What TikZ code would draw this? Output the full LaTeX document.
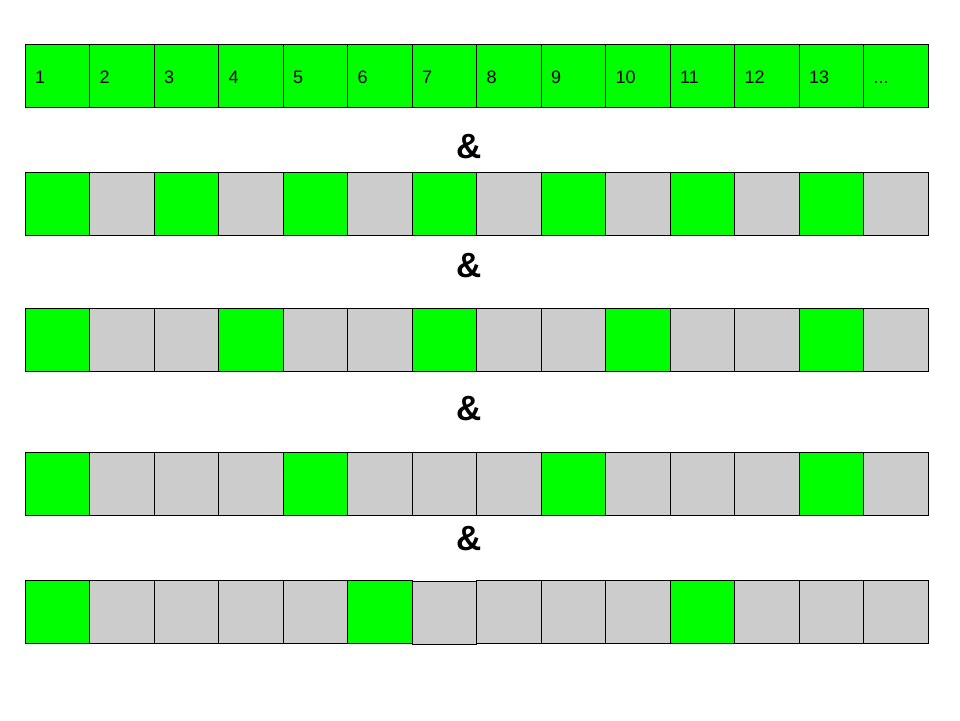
\documentclass[tikz,border=0pt]{standalone}
\usepackage{fontspec}
\setmainfont{Liberation Sans}
\definecolor{cgreen}{HTML}{00FF00}
\definecolor{cgray}{HTML}{CCCCCC}
\begin{document}
\begin{tikzpicture}[x=1pt,y=-1pt,
  cell/.style={draw=black, line width=1pt, rectangle, anchor=north west, minimum width=64.5pt, minimum height=63pt, inner sep=0pt, outer sep=0pt},
  lbl/.style={anchor=base west, inner sep=0pt, font=\fontsize{18}{20}\selectfont},
  amp/.style={font=\fontsize{35}{40}\selectfont\bfseries, inner sep=0pt}]
\useasboundingbox (0,0) rectangle (960,720);
% row 1
\foreach \i in {1,...,14} {
  \node[cell, fill=cgreen] (a\i) at ({25+64.5*(\i-1)},44) {};
}
\foreach \i in {1,...,13} {
  \node[lbl] (ta\i) at ({35+64.5*(\i-1)},83) {\i};
}
\node[lbl] (ta14) at ({35+64.5*13},83) {.{}.{}.};
% row 2: every 2nd
\foreach \i in {1,...,14} {
  \pgfmathtruncatemacro{\m}{mod(\i-1,2)}
  \ifnum\m=0 \def\c{cgreen}\else\def\c{cgray}\fi
  \node[cell, fill=\c] (b\i) at ({25+64.5*(\i-1)},172) {};
}
% row 3: every 3rd
\foreach \i in {1,...,14} {
  \pgfmathtruncatemacro{\m}{mod(\i-1,3)}
  \ifnum\m=0 \def\c{cgreen}\else\def\c{cgray}\fi
  \node[cell, fill=\c] (c\i) at ({25+64.5*(\i-1)},308) {};
}
% row 4: every 4th
\foreach \i in {1,...,14} {
  \pgfmathtruncatemacro{\m}{mod(\i-1,4)}
  \ifnum\m=0 \def\c{cgreen}\else\def\c{cgray}\fi
  \node[cell, fill=\c] (d\i) at ({25+64.5*(\i-1)},452) {};
}
% row 5: every 5th
\foreach \i in {1,...,14} {
  \pgfmathtruncatemacro{\m}{mod(\i-1,5)}
  \ifnum\m=0 \def\c{cgreen}\else\def\c{cgray}\fi
  \ifnum\i=7 \def\yy{581.5}\else\def\yy{580}\fi
  \node[cell, fill=\c] (e\i) at ({25+64.5*(\i-1)},\yy) {};
}
\node[amp] (amp1) at (469,147) {\&};
\node[amp] (amp2) at (469,266) {\&};
\node[amp] (amp3) at (469,409) {\&};
\node[amp] (amp4) at (469,539) {\&};
\end{tikzpicture}
\end{document}
